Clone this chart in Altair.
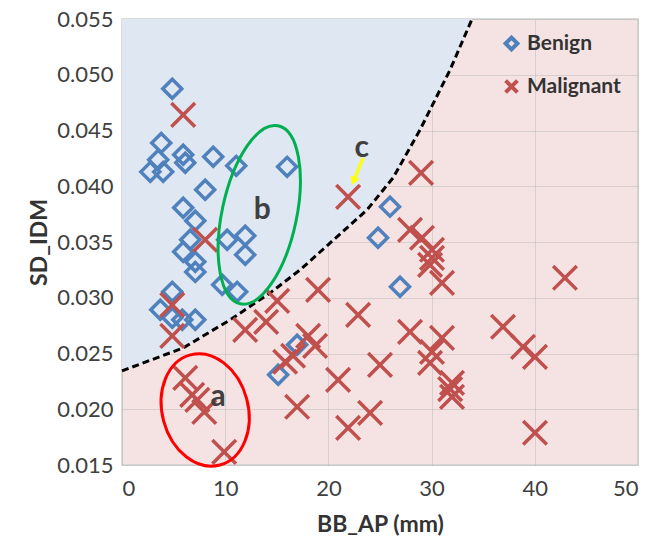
import altair as alt
import pandas as pd

# ---- data ----
benign_x = [4.87, 3.80, 3.51, 2.74, 3.99, 5.93, 6.13, 8.84, 11.07, 16.0, 8.06, 5.93, 7.10, 6.61,
            5.93, 10.19, 11.94, 11.94, 7.10, 7.10, 9.71, 11.16, 4.87, 3.71, 4.87, 5.84, 7.10,
            16.97, 15.13, 25.97, 24.81, 26.94]
benign_y = [0.04874, 0.04389, 0.04237, 0.04129, 0.04129, 0.04282, 0.04210, 0.04264, 0.04183,
            0.04174, 0.03968, 0.03807, 0.03690, 0.03520, 0.03412, 0.03520, 0.03556, 0.03385,
            0.03322, 0.03232, 0.03116, 0.03053, 0.03053, 0.02892, 0.02820, 0.02802, 0.02802,
            0.02578, 0.02309, 0.03817, 0.03538, 0.03098]

malig_x = [5.93, 8.06, 4.87, 4.87, 6.13, 6.80, 7.30, 7.97, 9.90, 11.94, 13.97, 15.04, 19.0,
           15.81, 16.58, 16.97, 18.04, 18.71, 21.91, 28.98, 27.91, 29.07, 30.04, 30.04, 29.85,
           31.01, 42.92, 22.88, 27.91, 31.01, 30.04, 29.85, 31.98, 31.98, 31.8, 36.92, 38.86,
           40.02, 40.02, 25.0, 20.94, 24.04, 21.91]
malig_y = [0.04640, 0.03520, 0.02936, 0.02658, 0.02281, 0.02129, 0.02084, 0.01977, 0.01618,
           0.02712, 0.02784, 0.02972, 0.03071, 0.02426, 0.02480, 0.02022, 0.02658, 0.02569,
           0.03905, 0.04120, 0.03609, 0.03538, 0.03430, 0.03358, 0.03295, 0.03134, 0.03179,
           0.02847, 0.02694, 0.02640, 0.02515, 0.02416, 0.02237, 0.02111, 0.02180, 0.02740,
           0.02560, 0.02470, 0.01789, 0.02398, 0.02264, 0.01968, 0.01833]

# decision boundary (dashed curve)
curve_x = [0.0, 5.93, 10.48, 14.36, 17.26, 19.97, 23.75, 26.27, 28.88, 31.79, 33.92]
curve_y = [0.02344, 0.02550, 0.02802, 0.03044, 0.03250, 0.03475, 0.03789, 0.04076, 0.04506,
           0.05044, 0.05500]

classes = ["Benign", "Malignant"]
class_colors = ["#4f81bd", "#c0504d"]

x_ticks = [0, 10, 20, 30, 40, 50]
y_ticks = [0.015, 0.020, 0.025, 0.030, 0.035, 0.040, 0.045, 0.050, 0.055]

# annotations
label_text = ["a", "b", "c"]
label_x = [9.32, 13.6, 23.23]
label_y = [0.02114, 0.03789, 0.04342]

ell_a_x, ell_a_y = [8.06], [0.01994]
ell_b_x, ell_b_y = [13.3], [0.03744]

arrow_x, arrow_y = [23.36], [0.04255]
arrow_x2, arrow_y2 = [22.44], [0.04046]

# ---- build ----
FONT = "Lato"
X_PATH = "M -1,-1 L 1,1 M -1,1 L 1,-1"


def ellipse_path(r):
    k = 0.5523
    kx = k * r
    return (f"M 0,-1 C {kx:.4f},-1 {r:.4f},-{k} {r:.4f},0 C {r:.4f},{k} {kx:.4f},1 0,1 "
            f"C -{kx:.4f},1 -{r:.4f},{k} -{r:.4f},0 C -{r:.4f},-{k} -{kx:.4f},-1 0,-1 Z")


pts = pd.DataFrame({
    "x": benign_x + malig_x,
    "y": benign_y + malig_y,
    "cls": ["Benign"] * len(benign_x) + ["Malignant"] * len(malig_x),
})
curve = pd.DataFrame({"x": curve_x, "y": curve_y})
labels = pd.DataFrame({"t": label_text, "x": label_x, "y": label_y})
ell_a = pd.DataFrame({"x": ell_a_x, "y": ell_a_y})
ell_b = pd.DataFrame({"x": ell_b_x, "y": ell_b_y})
arrow = pd.DataFrame({"x": arrow_x, "y": arrow_y, "x2": arrow_x2, "y2": arrow_y2})

xs = alt.Scale(domain=[0, 50], nice=False, zero=False)
ys = alt.Scale(domain=[0.015, 0.055], nice=False, zero=False)

xax = alt.Axis(values=x_ticks, title="BB_AP (mm)", format="d")
yax = alt.Axis(values=y_ticks, title="SD_IDM", format=".3f")

X = alt.X("x:Q", scale=xs, axis=xax)
Y = alt.Y("y:Q", scale=ys, axis=yax)

area = alt.Chart(curve).mark_area(color="#dfe7f3", opacity=1, clip=True).encode(
    x=X, y=Y, y2=alt.Y2(datum=0.055))

line = alt.Chart(curve).mark_line(color="black", strokeDash=[7, 4], strokeWidth=3).encode(
    x="x:Q", y="y:Q")

leg = alt.Legend(title=None, orient="none", legendX=379, legendY=14,
                 labelFont=FONT, labelFontSize=21, labelFontWeight="bold",
                 labelColor="#333333", symbolSize=140, symbolStrokeWidth=4,
                 rowPadding=14, padding=0, labelOffset=5)

points = alt.Chart(pts).mark_point(filled=False, strokeWidth=3.5, opacity=1).encode(
    x="x:Q", y="y:Q",
    color=alt.Color("cls:N", scale=alt.Scale(domain=classes, range=class_colors), legend=leg),
    shape=alt.Shape("cls:N", scale=alt.Scale(domain=classes, range=["diamond", X_PATH]), legend=leg),
    size=alt.condition("datum.cls == 'Benign'", alt.value(360), alt.value(560)),
)

ea = alt.Chart(ell_a).mark_point(shape=ellipse_path(0.754), size=12996, angle=345,
                                 filled=False, stroke="#ff0000", strokeWidth=3, opacity=1).encode(
    x="x:Q", y="y:Q")
eb = alt.Chart(ell_b).mark_point(shape=ellipse_path(0.41), size=33124, angle=12,
                                 filled=False, stroke="#00b050", strokeWidth=3, opacity=1).encode(
    x="x:Q", y="y:Q")

txt = alt.Chart(labels).mark_text(font=FONT, fontSize=30, fontWeight="bold", color="#404040",
                                  align="center", baseline="middle").encode(
    x="x:Q", y="y:Q", text="t:N")

arr_line = alt.Chart(arrow).mark_rule(color="#ffff00", strokeWidth=3).encode(
    x="x:Q", y="y:Q", x2="x2:Q", y2="y2:Q")
arr_head = alt.Chart(arrow).mark_point(shape="triangle-down", angle=22, filled=True,
                                       color="#ffff00", size=90, opacity=1).encode(
    x="x2:Q", y="y2:Q")

chart = alt.layer(area, line, points, ea, eb, txt, arr_line, arr_head).properties(
    width=516, height=446,
    padding={"left": 122, "top": 19, "right": 12, "bottom": 72},
    autosize=alt.AutoSizeParams(type="none"),
).configure_view(fill="#f5e3e3", stroke="#d0d0d0", strokeWidth=1.5).configure_axis(
    labelFont=FONT, labelFontSize=22, labelColor="#404040",
    titleFont=FONT, titleFontSize=23, titleFontWeight="bold", titleColor="#333333",
    ticks=False, domain=False, gridColor="#b0b0b0", gridOpacity=0.4, zindex=1,
).configure_axisX(labelPadding=13, titlePadding=14).configure_axisY(labelPadding=9, titlePadding=5)

chart.save("out.html", embed_options={"renderer": "svg", "actions": False})
